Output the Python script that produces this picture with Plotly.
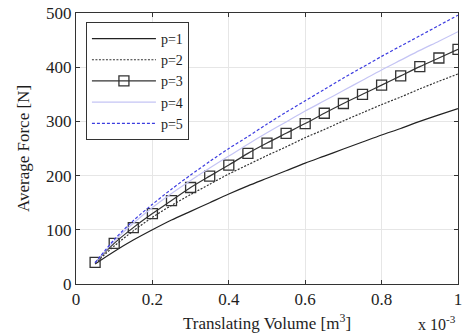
import plotly.graph_objects as go

volume = [0.05, 0.10, 0.15, 0.20, 0.25, 0.30, 0.35, 0.40, 0.45, 0.50,
          0.55, 0.60, 0.65, 0.70, 0.75, 0.80, 0.85, 0.90, 0.95, 1.00]
p1 = [37, 60, 81, 100, 118, 134, 150, 166, 181, 195,
      209, 223, 236, 249, 262, 275, 287, 300, 312, 323.5]
p2 = [38, 70, 98, 123, 145, 165, 184, 203, 220, 237,
      253, 270, 285, 301, 316, 331, 345, 360, 374, 387.5]
p3 = [40, 75, 104, 130, 154, 178, 199, 219.5, 241, 260,
      278, 296, 315, 333, 350, 367, 384, 401, 417, 433]
p4 = [39, 79, 112, 141, 167, 191, 214, 236, 258, 279,
      299, 319, 338, 357, 376, 395, 413, 431, 448, 465.5]
p5 = [39, 82, 117, 147, 175, 201, 226, 250, 272, 295,
      317, 338, 359, 380, 400, 420, 439, 458, 477, 496]

xticks = [0, 0.2, 0.4, 0.6, 0.8, 1]
xticklabels = ["0", "0.2", "0.4", "0.6", "0.8", "1"]
yticks = [0, 100, 200, 300, 400, 500]

FONT = "Liberation Serif"
TXT = "#1e1e1e"

fig = go.Figure()
fig.add_trace(go.Scatter(x=volume, y=p1, name="p=1", mode="lines",
                         line=dict(color="#222222", width=1.2, shape="spline", smoothing=0.8)))
fig.add_trace(go.Scatter(x=volume, y=p2, name="p=2", mode="lines",
                         line=dict(color="#333333", width=1.2, dash="2px,1.5px",
                                   shape="spline", smoothing=0.8)))
fig.add_trace(go.Scatter(x=volume, y=p3, name="p=3", mode="lines+markers",
                         line=dict(color="#333333", width=1.2, shape="spline", smoothing=0.8),
                         marker=dict(symbol="square-open", size=10,
                                     color="#333333", line=dict(width=1.3))))
fig.add_trace(go.Scatter(x=volume, y=p4, name="p=4", mode="lines",
                         line=dict(color="#c4c4f4", width=1.2, shape="spline", smoothing=0.8)))
fig.add_trace(go.Scatter(x=volume, y=p5, name="p=5", mode="lines",
                         line=dict(color="#3c3ce0", width=1.2, dash="3px,2px",
                                   shape="spline", smoothing=0.8)))

axis_common = dict(showline=True, linecolor="#333333", linewidth=1, mirror="ticks",
                   ticks="inside", ticklen=4, tickcolor="#333333",
                   showgrid=True, gridcolor="#e6e6e6", gridwidth=1,
                   zeroline=False, ticklabeloverflow="allow",
                   tickfont=dict(family=FONT, size=17, color=TXT))

fig.update_xaxes(range=[0, 1], tickvals=xticks, ticktext=xticklabels,
                 title=dict(text="Translating Volume [m<sup>3</sup>]",
                            font=dict(family=FONT, size=17, color=TXT), standoff=8),
                 **axis_common)
fig.update_yaxes(range=[0, 500], tickvals=yticks,
                 title=dict(text="Average Force [N]",
                            font=dict(family=FONT, size=17, color=TXT), standoff=12),
                 **axis_common)

fig.add_annotation(text="x 10<sup>-3</sup>", xref="paper", yref="paper",
                   x=0.946, y=-0.144, xanchor="center", yanchor="middle", showarrow=False,
                   font=dict(family=FONT, size=16, color=TXT))

fig.update_layout(
    width=466, height=333,
    margin=dict(l=76, r=4, t=13, b=49),
    paper_bgcolor="white", plot_bgcolor="white",
    font=dict(family=FONT, size=16, color=TXT),
    legend=dict(x=0.026, y=0.967, xanchor="left", yanchor="top",
                bgcolor="white", bordercolor="#333333", borderwidth=1,
                font=dict(family=FONT, size=14, color=TXT),
                itemwidth=64, tracegroupgap=0),
    showlegend=True,
)

fig.write_html("out.html")
